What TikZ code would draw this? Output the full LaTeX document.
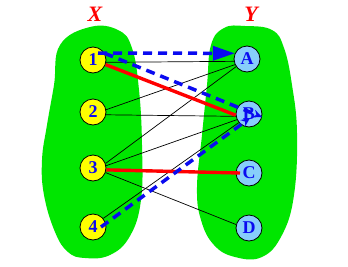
\documentclass[tikz,border=0pt]{standalone}
\usepackage{fontspec}
\setmainfont{Liberation Serif}
\usetikzlibrary{arrows.meta,calc}
\definecolor{blobgreen}{RGB}{0,230,0}
\definecolor{ylw}{RGB}{255,255,0}
\definecolor{lblue}{RGB}{135,206,250}
\definecolor{dblue}{RGB}{10,10,240}
\definecolor{rred}{RGB}{255,0,0}
\begin{document}
\begin{tikzpicture}[x=1pt,y=-1pt,
  xnode/.style={circle,draw=black,line width=0.8pt,fill=ylw,minimum size=26pt,inner sep=0pt,
    text=dblue,font=\fontsize{18}{18}\selectfont\bfseries},
  ynode/.style={xnode,fill=lblue},
  setlabel/.style={text=rred,font=\fontsize{22}{22}\selectfont\bfseries\itshape},
  thinline/.style={draw=black,line width=0.7pt},
  redline/.style={draw=rred,line width=3.4pt},
  blueline/.style={draw=dblue,line width=3.5pt,dash pattern=on 9pt off 6pt},
  blob/.style={fill=blobgreen,draw=none}]
\useasboundingbox (0,0) rectangle (348,266);
% blobs
\fill[blob] plot[smooth cycle,tension=0.7] coordinates {
 (90,27) (118,30) (132,48) (139,90) (142,145) (141,200) (130,236) (110,255) (85,258)
 (68,252) (55,232) (44,195) (42,160) (47,125) (54,85) (60,45)};
\fill[blob] plot[smooth cycle,tension=0.7] coordinates {
 (245,26) (272,30) (284,48) (292,85) (297,133) (294,195) (282,235) (262,257) (235,257)
 (214,245) (201,220) (197,187) (202,135) (207,85) (211,45) (224,28)};
% labels
\node[setlabel] (lx) at (95,14) {X};
\node[setlabel] (ly) at (251,14) {Y};
% nodes
\node[xnode] (n1) at (93,60) {1};
\node[xnode] (n2) at (93,112) {2};
\node[xnode] (n3) at (93,168) {3};
\node[xnode] (n4) at (93,227) {4};
\node[ynode] (A) at (247,59) {A};
\node[ynode] (B) at (249,114) {B};
\node[ynode] (C) at (249,173) {C};
\node[ynode] (D) at (249,228) {D};
% thin black connectors
\draw[thinline] (n1.-10) -- (A.190);
\draw[thinline] (n2.10) -- (A.205);
\draw[thinline] (n2.-12) -- (B.190);
\draw[thinline] (n3.20) -- (A.215);
\draw[thinline] (n3.10) -- (B.205);
\draw[thinline] (n3.-20) -- (D.165);
\draw[thinline] (n4.40) -- (B.220);
% red connectors
\draw[redline] (n1.-20) -- (B.185);
\draw[redline] (n3.-8) -- ($(C.center)+(-9,0)$);
% blue dashed connectors
\draw[blueline,-{Triangle[length=22pt,width=14pt]}] ($(n1.center)+(5,-7)$) -- (A.155);
\draw[blueline,-{Stealth[length=9pt,width=8pt]}] (n1.30) -- (B.-13);
\draw[blueline,-{Stealth[length=9pt,width=8pt]}] ($(n4.center)+(8,0)$) -- ($(B.center)+(1,4)$);
\end{tikzpicture}
\end{document}
